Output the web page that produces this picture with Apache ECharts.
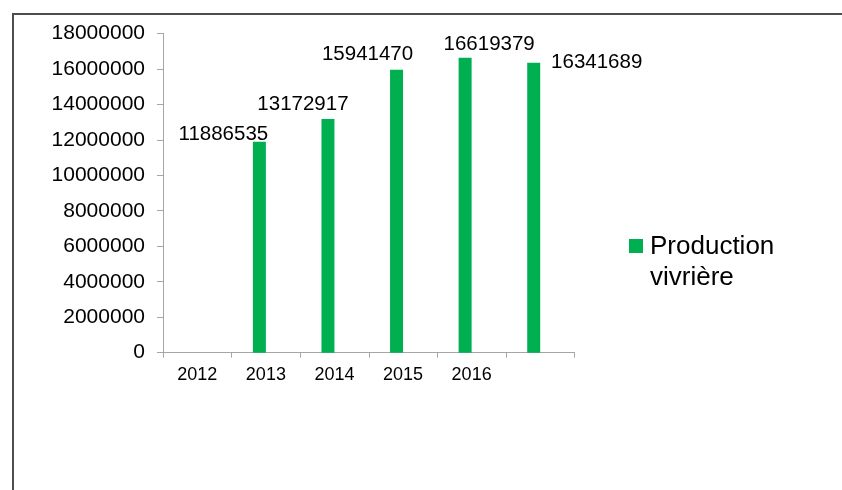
<!DOCTYPE html>
<html>
<head>
<meta charset="utf-8">
<script src="https://cdn.jsdelivr.net/npm/echarts@6/dist/echarts.min.js"></script>
<style>
html,body{margin:0;padding:0;background:#fff;}
#chart{width:842px;height:490px;}
</style>
</head>
<body>
<div id="chart"></div>
<script>
// ---- data ----
const categories = ['2012', '2013', '2014', '2015', '2016', ''];
const productionVivriere = [null, 11886535, 13172917, 15941470, 16619379, 16341689];
const seriesName = 'Production vivrière';
const yTicks = { min: 0, max: 18000000, interval: 2000000 };

// ---- label placement (style only) ----
const labelOffsets = [[0, 0], [-36, 3], [-25, -4], [-29, -5], [24, -3], [63, 10]];

const chart = echarts.init(document.getElementById('chart'), null, { renderer: 'canvas' });
const FONT = "'Liberation Sans', Arial, sans-serif";
const GREEN = '#00B050';

const barData = productionVivriere.map((v, i) => ({
  value: v == null ? '-' : v,
  label: { offset: labelOffsets[i] }
}));

chart.setOption({
  backgroundColor: '#ffffff',
  animation: false,
  textStyle: { fontFamily: FONT },
  graphic: [
    {
      type: 'rect',
      shape: { x: 13, y: 14, width: 900, height: 600 },
      style: { fill: 'none', stroke: '#4d4d4d', lineWidth: 2 },
      silent: true
    },
    {
      type: 'rect',
      shape: { x: 629, y: 239, width: 14, height: 14 },
      style: { fill: GREEN },
      silent: true
    },
    {
      type: 'text',
      x: 650,
      y: 231,
      style: {
        text: seriesName.replace(' ', '\n'),
        font: "26px 'Liberation Sans', Arial, sans-serif",
        lineHeight: 31,
        fill: '#000',
        verticalAlign: 'top',
        align: 'left'
      },
      silent: true
    }
  ],
  grid: { left: 163, right: 267.5, top: 33.3, bottom: 137.3, containLabel: false },
  xAxis: {
    type: 'category',
    data: categories,
    axisLine: { lineStyle: { color: '#a6a6a6', width: 1 } },
    axisTick: { show: true, length: 5, lineStyle: { color: '#a6a6a6' } },
    axisLabel: { fontFamily: FONT, fontSize: 18, color: '#000', margin: 13, interval: 0 },
    splitLine: { show: false }
  },
  yAxis: {
    type: 'value',
    min: yTicks.min,
    max: yTicks.max,
    interval: yTicks.interval,
    axisLine: { show: true, lineStyle: { color: '#a6a6a6', width: 1 } },
    axisTick: { show: true, length: 6, lineStyle: { color: '#a6a6a6' } },
    axisLabel: { fontFamily: FONT, fontSize: 21, color: '#000', margin: 18, formatter: v => String(v) },
    splitLine: { show: false }
  },
  series: [
    {
      name: seriesName,
      type: 'bar',
      data: barData,
      barWidth: 13,
      barGap: '0%',
      itemStyle: { color: GREEN },
      label: {
        show: true,
        position: 'top',
        distance: 0,
        fontFamily: FONT,
        fontSize: 20.5,
        color: '#000',
        formatter: p => String(p.value)
      }
    },
    {
      name: 'empty',
      type: 'bar',
      data: categories.map(() => '-'),
      barWidth: 13,
      barGap: '0%',
      itemStyle: { color: '#ffffff' },
      silent: true
    }
  ]
});
</script>
</body>
</html>
